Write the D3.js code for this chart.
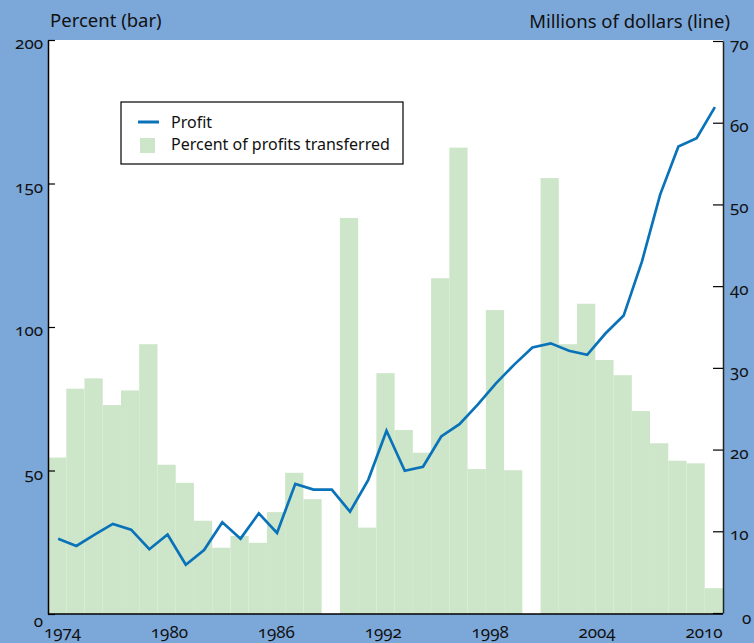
<!DOCTYPE html>
<html><head><meta charset="utf-8">
<script src="https://cdn.jsdelivr.net/npm/d3@7"></script>
<style>
html,body{margin:0;padding:0;background:#7ca7d9;}
svg{display:block;}
text{font-family:"Noto Sans",sans-serif;font-feature-settings:"onum" 1;font-variant-numeric:oldstyle-nums;fill:#111;}
</style></head><body>
<svg id="chart" width="754" height="643"></svg>
<script>
const years = [1974,1975,1976,1977,1978,1979,1980,1981,1982,1983,1984,1985,1986,1987,1988,1989,
  1990,1991,1992,1993,1994,1995,1996,1997,1998,1999,2000,2001,2002,2003,2004,2005,2006,2007,2008,2009,2010];
const percentTransferred = [54.5,78.5,82.1,72.8,77.9,94.0,52.0,45.7,32.5,23.1,27.2,24.8,35.5,49.2,40.0,0,
  138.0,30.1,83.9,64.1,56.2,117.0,162.5,50.5,105.9,50.1,0,151.9,94.0,108.1,88.5,83.2,70.7,59.5,53.4,52.5,9.0];
const profit = [9.1,8.2,9.6,10.9,10.2,7.8,9.6,5.9,7.7,11.1,9.1,12.2,9.8,15.8,15.1,15.1,
  12.4,16.3,22.3,17.4,17.9,21.6,23.1,25.5,28.1,30.4,32.5,33.0,32.1,31.6,34.2,36.4,43.0,51.2,57.1,58.1,61.9];
const xTickYears = [1974,1980,1986,1992,1998,2004,2010];
const leftTicks = [0,50,100,150,200];
const rightTicks = [0,10,20,30,40,50,60,70];
const leftTitle = "Percent (bar)";
const rightTitle = "Millions of dollars (line)";
const legendLabels = ["Profit","Percent of profits transferred"];

const W = 754, H = 643;
const P = {left:48, right:723, top:40, bottom:614};
const BG = "#7ca7d9", BAR = "#cde6c9", LINE = "#0a72b9";

const svg = d3.select("#chart");
svg.append("rect").attr("width",W).attr("height",H).attr("fill",BG);
svg.append("rect").attr("x",P.left).attr("y",P.top)
  .attr("width",P.right-P.left).attr("height",P.bottom-P.top).attr("fill","#fff");

const x = d3.scaleBand().domain(years).range([P.left,P.right]).padding(0);
const xLabel = d3.scaleLinear().domain([1974,2010]).range([P.left+14.5, P.right-19]);
const yL = d3.scaleLinear().domain([0,200]).range([P.bottom,P.top]);
const yR = d3.scaleLinear().domain([0,70]).range([P.bottom-1,P.top+1]);

const data = years.map((y,i)=>({year:y, pct:percentTransferred[i], profit:profit[i]}));

svg.append("g").selectAll("rect").data(data).join("rect")
  .attr("x",d=>x(d.year)).attr("width",x.bandwidth())
  .attr("y",d=>yL(d.pct)).attr("height",d=>yL(0)-yL(d.pct))
  .attr("fill",BAR);

const line = d3.line().x(d=>x(d.year)+x.bandwidth()/2+1).y(d=>yR(d.profit));
svg.append("path").datum(data).attr("d",line)
  .attr("fill","none").attr("stroke",LINE).attr("stroke-width",2.7).attr("stroke-linejoin","miter");

// left axis
const gL = svg.append("g").attr("transform",`translate(${P.left},0)`)
  .call(d3.axisLeft(yL).tickValues(leftTicks).tickSizeInner(-7).tickSizeOuter(0).tickPadding(5));
gL.select(".domain").attr("stroke","#000").attr("stroke-width",1.5);
gL.selectAll(".tick line").attr("stroke","#000").attr("stroke-width",1.2);
gL.selectAll(".tick text").attr("font-size",17).attr("font-family","Noto Sans").attr("fill","#111")
  .attr("dy",d=>d===0?"0.75em":"0.5em");

// right axis
const gR = svg.append("g").attr("transform",`translate(${P.right},0)`)
  .call(d3.axisRight(yR).tickValues(rightTicks).tickSizeInner(-10).tickSizeOuter(0).tickPadding(7));
gR.select(".domain").attr("stroke","#222").attr("stroke-width",1.5);
gR.selectAll(".tick line").attr("stroke","#000").attr("stroke-width",1.2);
gR.selectAll(".tick text").attr("font-size",17).attr("font-family","Noto Sans").attr("fill","#111")
  .attr("dy",d=>d===0?"0.6em":"0.5em").attr("dx",d=>d===0?12:0);

// bottom axis line
svg.append("line").attr("x1",P.left).attr("x2",P.right).attr("y1",P.bottom).attr("y2",P.bottom)
  .attr("stroke","#000").attr("stroke-width",1.5);
svg.append("g").selectAll("text").data(xTickYears).join("text")
  .attr("x",d=>xLabel(d)).attr("y",638).attr("text-anchor","middle")
  .attr("font-size",17).text(d=>d);

// titles
svg.append("text").attr("x",50).attr("y",27).attr("font-size",18.5).text(leftTitle);
svg.append("text").attr("x",730).attr("y",28).attr("text-anchor","end").attr("font-size",18.5).text(rightTitle);

// legend
const lg = svg.append("g");
lg.append("rect").attr("x",121).attr("y",102).attr("width",282).attr("height",62)
  .attr("fill","#fff").attr("stroke","#000").attr("stroke-width",1.2);
lg.append("line").attr("x1",138).attr("x2",159).attr("y1",122).attr("y2",122)
  .attr("stroke",LINE).attr("stroke-width",3);
lg.append("rect").attr("x",140).attr("y",138).attr("width",15).attr("height",15).attr("fill",BAR);
lg.append("text").attr("x",171).attr("y",128).attr("font-size",16).text(legendLabels[0]);
lg.append("text").attr("x",171).attr("y",150).attr("font-size",16).text(legendLabels[1]);
</script>
</body></html>
